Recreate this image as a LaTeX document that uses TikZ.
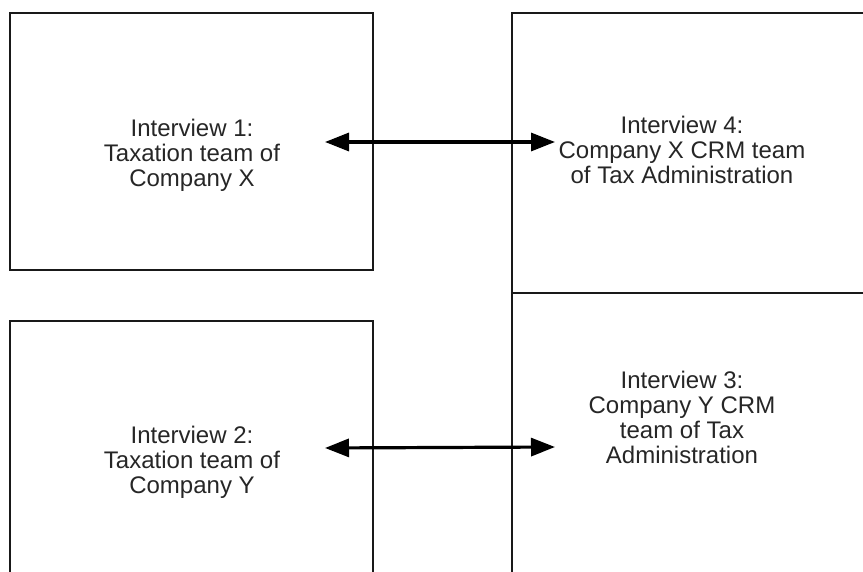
\documentclass[tikz,border=0pt]{standalone}
\usepackage{fontspec}
\setmainfont{Liberation Sans}
\usetikzlibrary{arrows.meta}
\begin{document}
\begin{tikzpicture}[x=1pt,y=-1pt,
  boxline/.style={draw=black!90, line width=2.8pt},
  lbl/.style={align=center, font=\fontsize{24}{25}\selectfont, inner sep=0pt, text=black!85},
  link/.style={line width=3.2pt, {Triangle[length=24pt,width=18pt]}-{Triangle[length=24pt,width=18pt]}}]
\useasboundingbox (0,0) rectangle (863,572);
\begin{scope}
  \clip (0,0) rectangle (863,572);
  \draw[boxline] (10,13) rectangle (373,270);
  \draw[boxline] (10,321) rectangle (373,620);
  \draw[boxline] (512,13) rectangle (920,293);
  \draw[boxline] (512,293) rectangle (920,620);
\end{scope}
\node[lbl] (t1) at (192,155) {Interview 1:\\Taxation team of\\Company X};
\node[lbl] (t4) at (682,150) {Interview 4:\\Company X CRM team\\of Tax Administration};
\node[lbl] (t2) at (192,462) {Interview 2:\\Taxation team of\\Company Y};
\node[lbl] (t3) at (682,417) {Interview 3:\\Company Y CRM\\team of Tax\\Administration};
\coordinate (a1l) at (325,142);
\coordinate (a1r) at (555,142);
\coordinate (a2l) at (325,448);
\coordinate (a2r) at (555,447);
\draw[link] (a1l) -- (a1r);
\draw[link] (a2l) -- (a2r);
\end{tikzpicture}
\end{document}
